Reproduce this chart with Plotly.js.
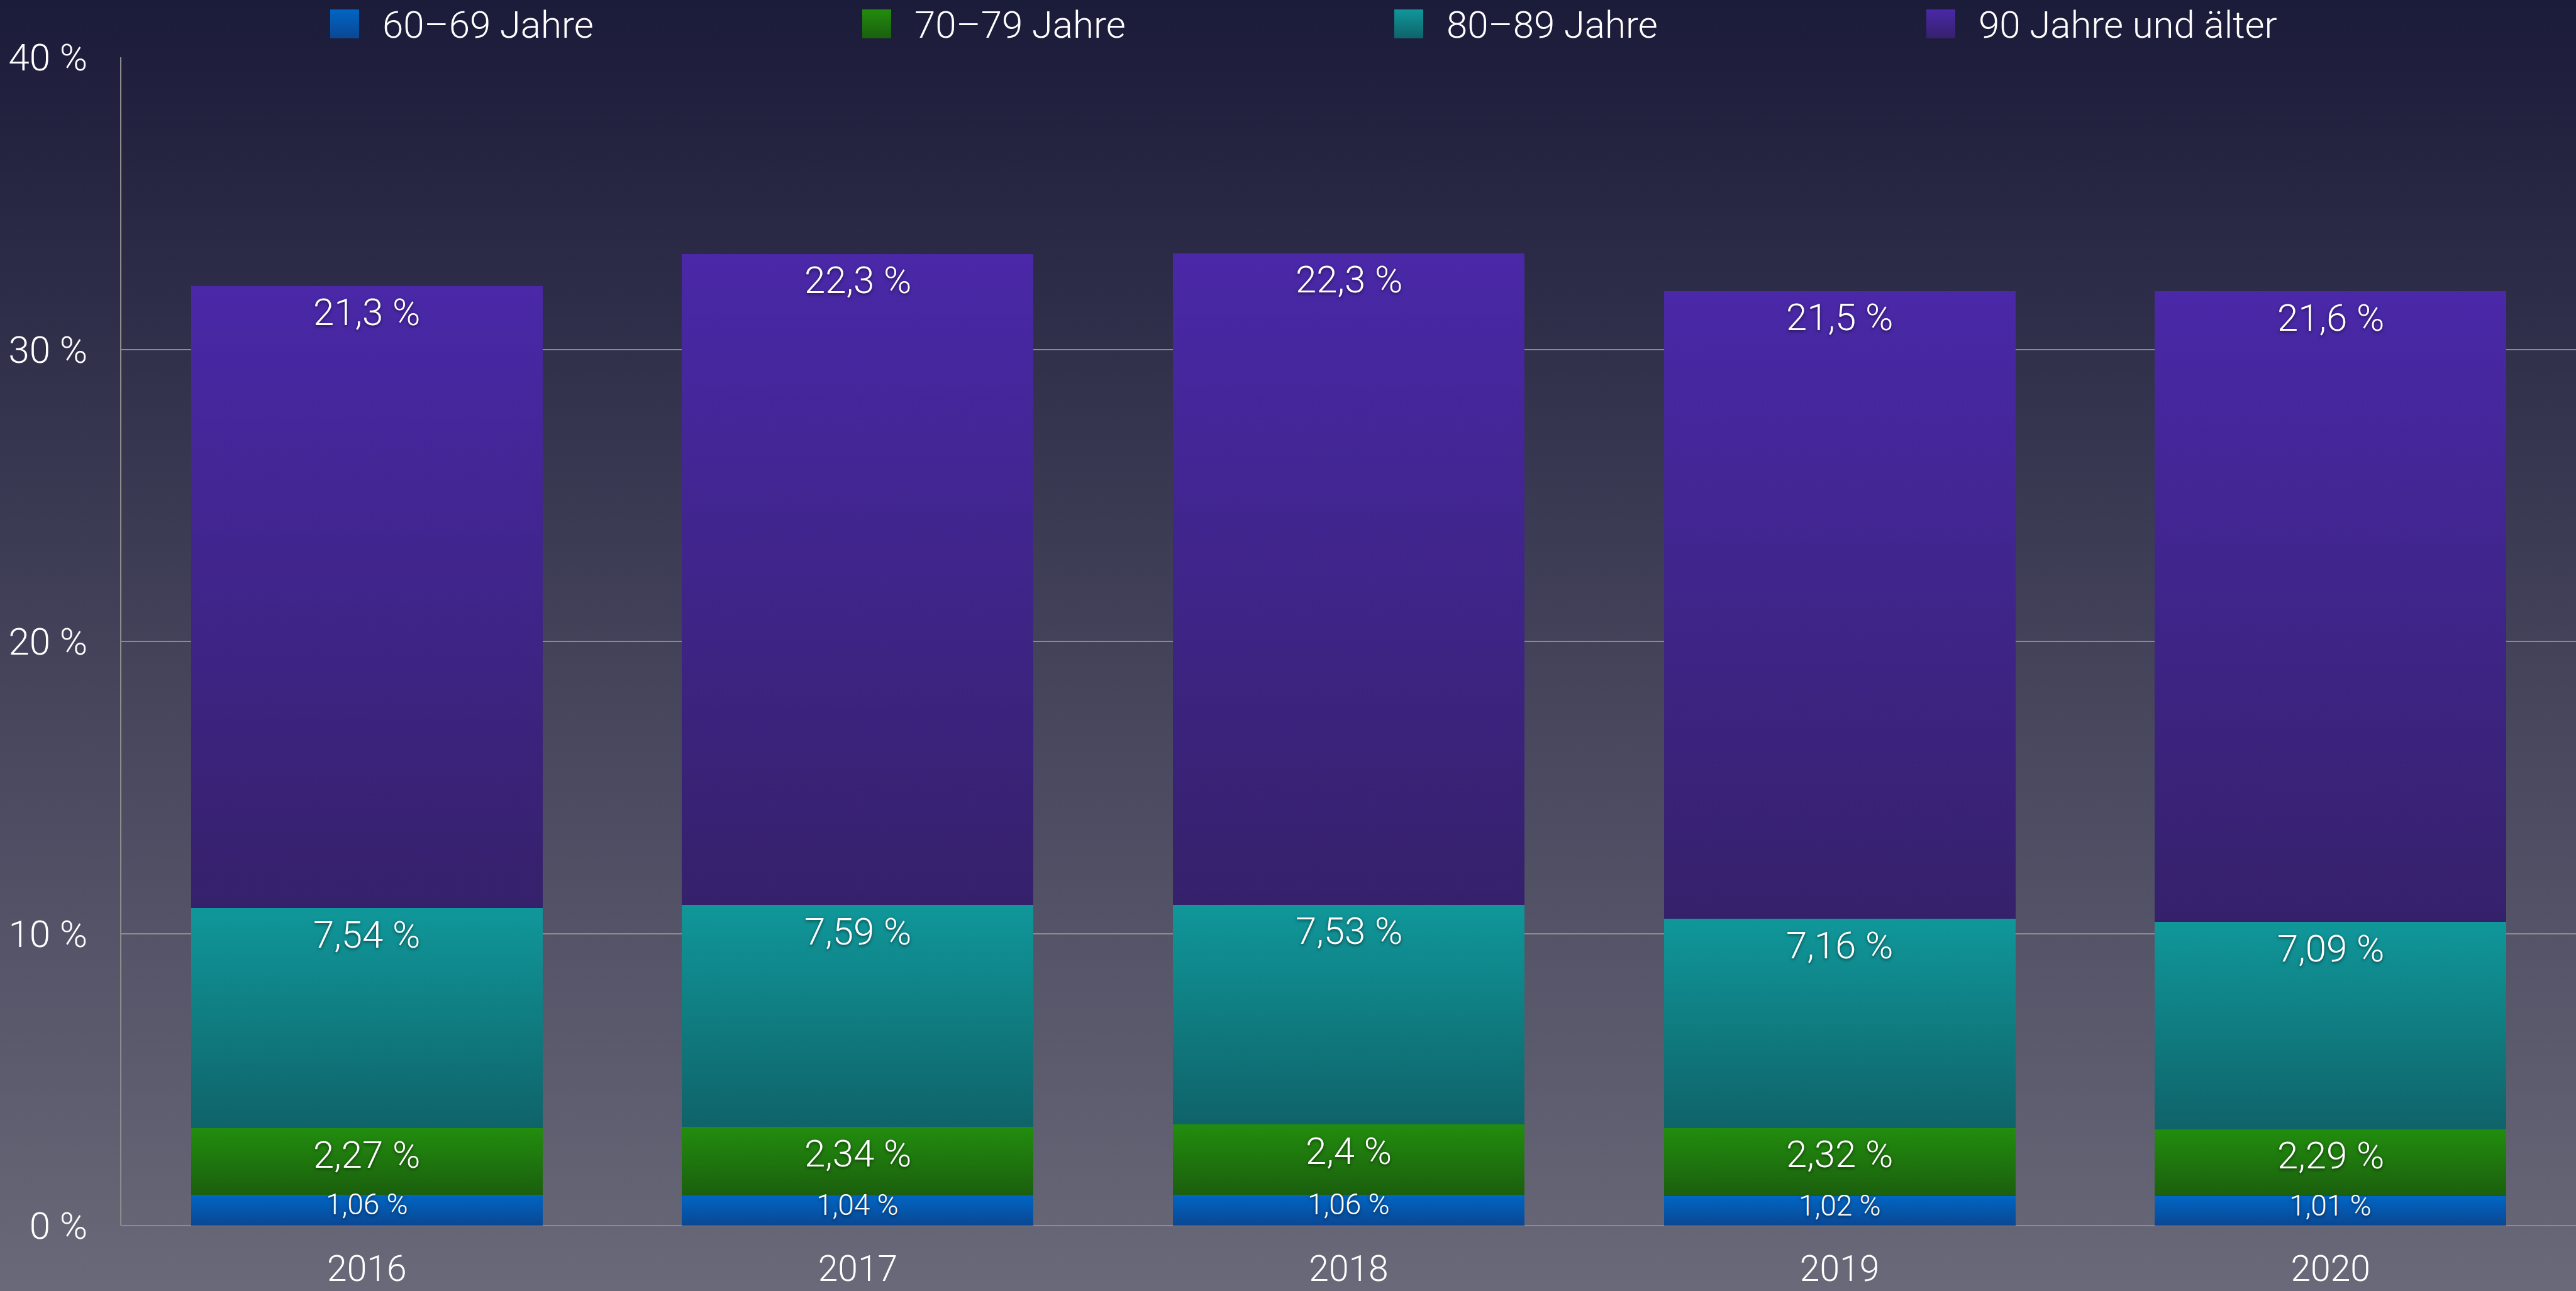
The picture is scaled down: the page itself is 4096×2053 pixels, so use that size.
<!DOCTYPE html>
<html>
<head>
<meta charset="utf-8">
<script src="https://cdn.plot.ly/plotly-3.0.1.min.js"></script>
<style>
  html, body { margin: 0; padding: 0; }
  body { width: 4096px; height: 2053px; background: linear-gradient(to bottom, #1b1b3a 0%, #6a6979 100%); overflow: hidden; }
  #chart { width: 4096px; height: 2053px; }
</style>
</head>
<body>
<div id="chart"></div>
<script>
// ---- data ----
const years = ['2016', '2017', '2018', '2019', '2020'];
const seriesNames = ['60–69 Jahre', '70–79 Jahre', '80–89 Jahre', '90 Jahre und älter'];
const v6069 = [1.06, 1.04, 1.06, 1.02, 1.01];
const v7079 = [2.27, 2.34, 2.4, 2.32, 2.29];
const v8089 = [7.54, 7.59, 7.53, 7.16, 7.09];
const v90 = [21.3, 22.3, 22.3, 21.5, 21.6];
const yTicks = [0, 10, 20, 30, 40];
const yTickLabels = ['0 %', '10 %', '20 %', '30 %', '40 %'];

// ---- style ----
const seriesValues = [v6069, v7079, v8089, v90];
const seriesColors = ['#0458ac', '#1e7710', '#117b80', '#3f2690'];
const gradTop = ['#0066c4', '#228d0e', '#10979a', '#4a28a8'];
const gradBottom = ['#0a4793', '#1b5f0e', '#0f6369', '#35216b'];
const FONT = 'Roboto, "Open Sans", sans-serif';
const W = 4096, H = 2053;
const ML = 193, MR = 0, MT = 91, MB = 104;
const PW = W - ML - MR, PH = H - MT - MB;
const px2x = p => (p - ML) / PW;
const px2y = p => 1 - (p - MT) / PH;
const fmt = v => String(v).replace('.', ',') + ' %';

const traces = seriesValues.map((vals, i) => ({
  type: 'bar',
  x: years,
  y: vals,
  name: seriesNames[i],
  marker: { color: seriesColors[i], line: { width: 0 } },
  showlegend: false,
  hoverinfo: 'none'
}));

// value labels near the top of each segment
const annotations = [];
years.forEach((yr, j) => {
  let cum = 0;
  seriesValues.forEach((vals, i) => {
    cum += vals[j];
    const small = (i === 0);
    annotations.push({
      x: j, y: cum, xref: 'x', yref: 'y',
      text: fmt(vals[j]),
      showarrow: false,
      yanchor: 'middle',
      yshift: small ? -15 : -42,
      font: { family: FONT, size: small ? 46 : 60, color: '#ffffff', weight: 300,
              shadow: '0px 2px 5px rgba(0,0,0,0.55)' }
    });
  });
});

// custom legend (large swatches)
const shapes = [];
const legendX0 = 525, legendStep = 846, sw = 46, legendYTop = 15;
seriesNames.forEach((nm, i) => {
  const x0 = legendX0 + i * legendStep;
  shapes.push({
    type: 'rect', xref: 'paper', yref: 'paper',
    x0: px2x(x0), x1: px2x(x0 + sw),
    y0: px2y(legendYTop + sw), y1: px2y(legendYTop),
    fillcolor: seriesColors[i], line: { width: 0 }
  });
  annotations.push({
    xref: 'paper', yref: 'paper',
    x: px2x(x0 + 81), y: px2y(legendYTop + sw / 2 + 2),
    xanchor: 'left', yanchor: 'middle',
    text: nm, showarrow: false,
    font: { family: FONT, size: 60, color: '#ffffff', weight: 300 }
  });
});

const layout = {
  width: W, height: H,
  margin: { l: ML, r: MR, t: MT, b: MB, pad: 0 },
  paper_bgcolor: 'rgba(0,0,0,0)',
  plot_bgcolor: 'rgba(0,0,0,0)',
  barmode: 'stack',
  bargap: 0.284,
  showlegend: false,
  font: { family: FONT, color: '#ffffff', weight: 300 },
  xaxis: {
    type: 'category',
    range: [-0.5, years.length - 0.5],
    tickfont: { family: FONT, size: 57, color: '#ffffff', weight: 300 },
    showgrid: false, zeroline: false, showline: false,
    ticks: '', ticklabelstandoff: 30
  },
  yaxis: {
    range: [0, 40],
    tickvals: yTicks, ticktext: yTickLabels,
    tickfont: { family: FONT, size: 60, color: '#ffffff', weight: 300 },
    showgrid: true, gridcolor: '#8c8c8c', gridwidth: 2,
    zeroline: true, zerolinecolor: '#8c8c8c', zerolinewidth: 2,
    showline: true, linecolor: '#8c8c8c', linewidth: 2,
    ticks: '', ticklabelstandoff: 40
  },
  annotations: annotations,
  shapes: shapes
};

function applyGradients(gd) {
  const NS = 'http://www.w3.org/2000/svg';
  const svg = gd.querySelector('svg.main-svg');
  let defs = svg.querySelector('defs');
  if (!defs) { defs = document.createElementNS(NS, 'defs'); svg.insertBefore(defs, svg.firstChild); }
  gradTop.forEach((c, i) => {
    const lg = document.createElementNS(NS, 'linearGradient');
    lg.setAttribute('id', 'segGrad' + i);
    lg.setAttribute('x1', '0'); lg.setAttribute('y1', '0');
    lg.setAttribute('x2', '0'); lg.setAttribute('y2', '1');
    [[0, gradTop[i]], [1, gradBottom[i]]].forEach(([o, col]) => {
      const st = document.createElementNS(NS, 'stop');
      st.setAttribute('offset', o);
      st.setAttribute('stop-color', col);
      lg.appendChild(st);
    });
    defs.appendChild(lg);
  });
  gd.querySelectorAll('.barlayer .trace').forEach((tr, i) => {
    tr.querySelectorAll('.point path').forEach(p => { p.style.fill = 'url(#segGrad' + i + ')'; });
  });
  // legend swatches
  gd.querySelectorAll('.layer-above .shapelayer path, .shapelayer path').forEach((p, i) => {
    if (i < gradTop.length) p.style.fill = 'url(#segGrad' + i + ')';
  });
}

Plotly.newPlot('chart', traces, layout, { displayModeBar: false, staticPlot: true })
  .then(gd => applyGradients(gd));
</script>
</body>
</html>
